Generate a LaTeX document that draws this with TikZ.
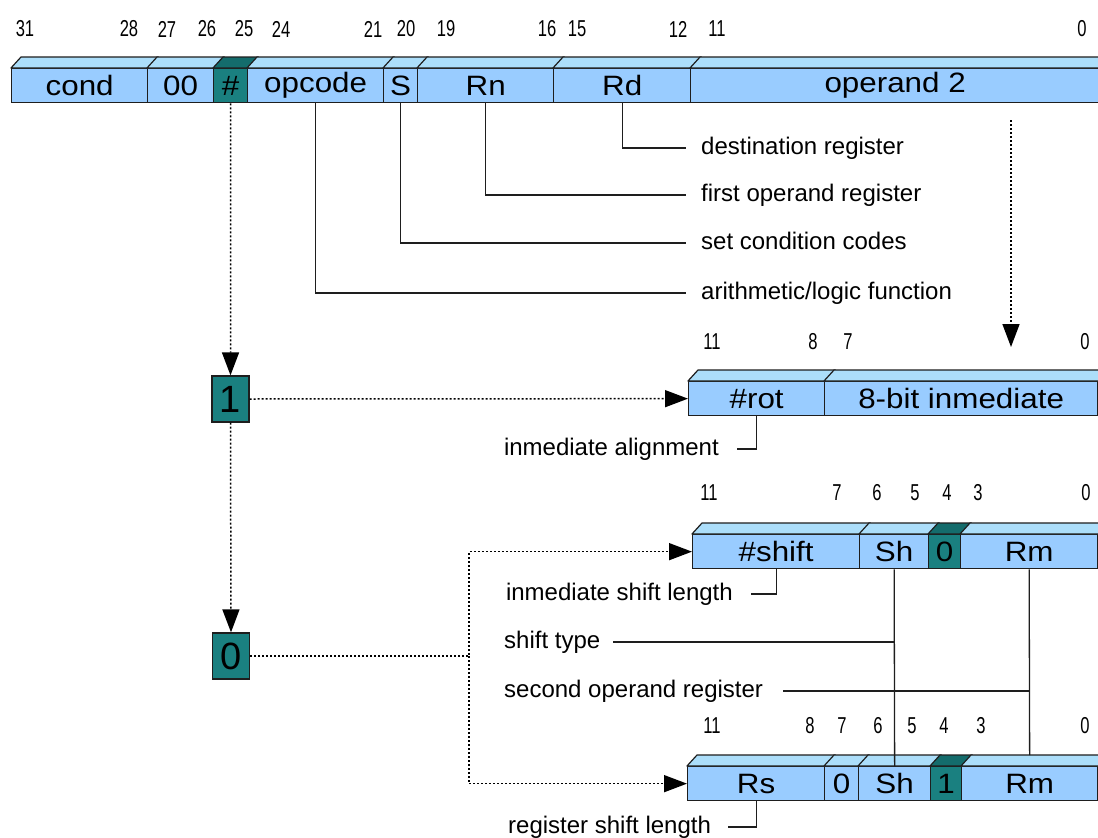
\documentclass[tikz,border=0pt]{standalone}
\usepackage{fontspec}
\setmainfont{Liberation Sans}
\newfontfamily\fieldfont[FakeStretch=1.12]{Liberation Sans}
\newfontfamily\numfont[FakeStretch=0.72]{Liberation Sans}
\usetikzlibrary{arrows.meta}

\definecolor{cellblue}{RGB}{153,204,255}
\definecolor{celltop}{RGB}{172,222,250}
\definecolor{flagteal}{RGB}{26,128,128}
\definecolor{flagtop}{RGB}{20,108,108}
\definecolor{edgegray}{RGB}{30,30,30}

\tikzset{
  cell/.style={draw=edgegray, line width=1.3pt, inner sep=0pt, anchor=north west,
    minimum height=34pt, font=\fieldfont\fontsize{28}{30}\selectfont},
  topface/.style={draw=edgegray, line width=1.2pt, line join=round},
  bitnum/.style={inner sep=0pt, font=\numfont\fontsize{23}{25}\selectfont},
  desc/.style={inner sep=0pt, font=\fontsize{24}{26}\selectfont,
    text height=17pt, text depth=5pt},
  lead/.style={draw=edgegray, line width=1.3pt},
  dotline/.style={draw=black, line width=1.5pt, dash pattern=on 2pt off 2pt},
  flagbox/.style={draw=edgegray, line width=1.3pt, fill=flagteal, inner sep=0pt,
    minimum width=37pt, minimum height=46pt, font=\fontsize{38}{40}\selectfont},
  >={Triangle[length=23pt,width=17pt]}
}

% one field of a register: front face as a node, top face as a slanted strip
% #1 front colour, #2 top colour, #3 name, #4 left x, #5 right x, #6 top y, #7 text
\newcommand\regcell[7]{%
  \pgfmathsetmacro\cellw{#5-#4}%
  \node[cell, fill=#1, minimum width=\cellw pt] (#3) at (#4,#6) {#7};
  \filldraw[topface, fill=#2] (#3.north west) -- ++(10,-11)
    -- ([shift={(10pt,11pt)}]#3.north east) -- (#3.north east) -- cycle;
}

\begin{document}
\begin{tikzpicture}[x=1pt,y=-1pt]
\path[use as bounding box] (0,0) rectangle (1098,838);
\clip (0,0) rectangle (1098,838);
\fill[white] (0,0) rectangle (1098,838);

% ---- data processing instruction word ----
\regcell{cellblue}{celltop}{cond}{11}{147}{68}{cond}
\regcell{cellblue}{celltop}{zz}{147}{213}{68}{00}
\regcell{flagteal}{flagtop}{hash}{213}{247}{68}{\#}
\regcell{cellblue}{celltop}{opc}{247}{383}{68}{opcode}
\regcell{cellblue}{celltop}{sbit}{383}{417}{68}{S}
\regcell{cellblue}{celltop}{rn}{417}{553}{68}{Rn}
\regcell{cellblue}{celltop}{rd}{553}{690}{68}{Rd}
\regcell{cellblue}{celltop}{optwo}{690}{1099}{68}{operand 2}

\node[bitnum] (t31) at (25,29) {31};
\node[bitnum] (t28) at (129,29) {28};
\node[bitnum] (t27) at (167,29) {27};
\node[bitnum] (t26) at (207,29) {26};
\node[bitnum] (t25) at (244,29) {25};
\node[bitnum] (t24) at (281,29) {24};
\node[bitnum] (t21) at (373,29) {21};
\node[bitnum] (t20) at (406,29) {20};
\node[bitnum] (t19) at (446,29) {19};
\node[bitnum] (t16) at (547,29) {16};
\node[bitnum] (t15) at (577,29) {15};
\node[bitnum] (t12) at (678,29) {12};
\node[bitnum] (t11) at (717,29) {11};
\node[bitnum] (t0) at (1082,29) {0};

% ---- field descriptions ----
\node[desc, anchor=west] (dRd) at (701,148) {destination register};
\node[desc, anchor=west] (dRn) at (701,195) {first operand register};
\node[desc, anchor=west] (dS) at (701,243) {set condition codes};
\node[desc, anchor=west] (dOp) at (701,293) {arithmetic/logic function};

\draw[lead] (rd.south) |- ([xshift=-15pt]dRd.west);
\draw[lead] (rn.south) |- ([xshift=-15pt]dRn.west);
\draw[lead] (sbit.south) |- ([xshift=-15pt]dS.west);
\draw[lead] (opc.south) |- ([xshift=-15pt]dOp.west);

% ---- immediate flag boxes ----
\node[flagbox] (one) at (230.5,399) {1};
\node[flagbox] (zero) at (231,656) {0};

% ---- rotated immediate ----
\regcell{cellblue}{celltop}{rot}{688}{824}{381}{\#rot}
\regcell{cellblue}{celltop}{imm}{824}{1097}{381}{8-bit inmediate}
\node[bitnum] (r11) at (712,342) {11};
\node[bitnum] (r8) at (813,342) {8};
\node[bitnum] (r7) at (848,342) {7};
\node[bitnum] (r0) at (1085,342) {0};
\node[desc, anchor=east] (dIal) at (719,449) {inmediate alignment};
\draw[lead] (rot.south) |- ([xshift=18pt]dIal.east);

% ---- register shifted by immediate amount ----
\regcell{cellblue}{celltop}{shamt}{692}{859}{534}{\#shift}
\regcell{cellblue}{celltop}{shA}{859}{928}{534}{Sh}
\regcell{flagteal}{flagtop}{zA}{928}{960}{534}{0}
\regcell{cellblue}{celltop}{rmA}{960}{1097}{534}{Rm}
\node[bitnum] (s11) at (709,493) {11};
\node[bitnum] (s7) at (837,493) {7};
\node[bitnum] (s6) at (877,493) {6};
\node[bitnum] (s5) at (915,493) {5};
\node[bitnum] (s4) at (947,493) {4};
\node[bitnum] (s3) at (978,493) {3};
\node[bitnum] (s0) at (1086,493) {0};

% ---- register shifted by register amount ----
\regcell{cellblue}{celltop}{rs}{687}{824}{766}{Rs}
\regcell{cellblue}{celltop}{zB}{824}{858}{766}{0}
\regcell{cellblue}{celltop}{shB}{858}{930}{766}{Sh}
\regcell{flagteal}{flagtop}{oneB}{930}{961}{766}{1}
\regcell{cellblue}{celltop}{rmB}{961}{1097}{766}{Rm}
\node[bitnum] (g11) at (712,726) {11};
\node[bitnum] (g8) at (810,726) {8};
\node[bitnum] (g7) at (842,726) {7};
\node[bitnum] (g6) at (878,726) {6};
\node[bitnum] (g5) at (912,726) {5};
\node[bitnum] (g4) at (944,726) {4};
\node[bitnum] (g3) at (981,726) {3};
\node[bitnum] (g0) at (1085,726) {0};

\node[desc, anchor=east] (dIsl) at (733,594) {inmediate shift length};
\node[desc, anchor=west] (dST) at (504,642) {shift type};
\node[desc, anchor=west] (dSOR) at (504,691) {second operand register};
\node[desc, anchor=west] (dRsl) at (508,827) {register shift length};

\draw[lead] (shamt.south) |- ([xshift=18pt]dIsl.east);
\draw[lead] (shA.south) -- (shB.north);
\draw[lead] (rmA.south) -- ([yshift=11pt]rmB.north);
\draw[lead] ([xshift=13pt]dST.east) -- (dST.east -| shA.south);
\draw[lead] ([xshift=20pt]dSOR.east) -- (dSOR.east -| rmA.south);
\draw[lead] (rs.south) |- ([xshift=17pt]dRsl.east);

% ---- decoding paths ----
\coordinate (opdrop) at (1011,120);
\coordinate (opland) at (1011,347);
\coordinate (fork) at (469,656);
\draw[dotline,->] (hash.south) -- (one.north);
\draw[dotline,->] (one.south) -- (zero.north);
\draw[dotline,->] (one.east) -- (rot.west);
\draw[dotline,->] (opdrop) -- (opland);
\draw[dotline,->] (zero.east) -- (fork) |- (shamt.west);
\draw[dotline,->] (fork) |- (rs.west);
\end{tikzpicture}
\end{document}
